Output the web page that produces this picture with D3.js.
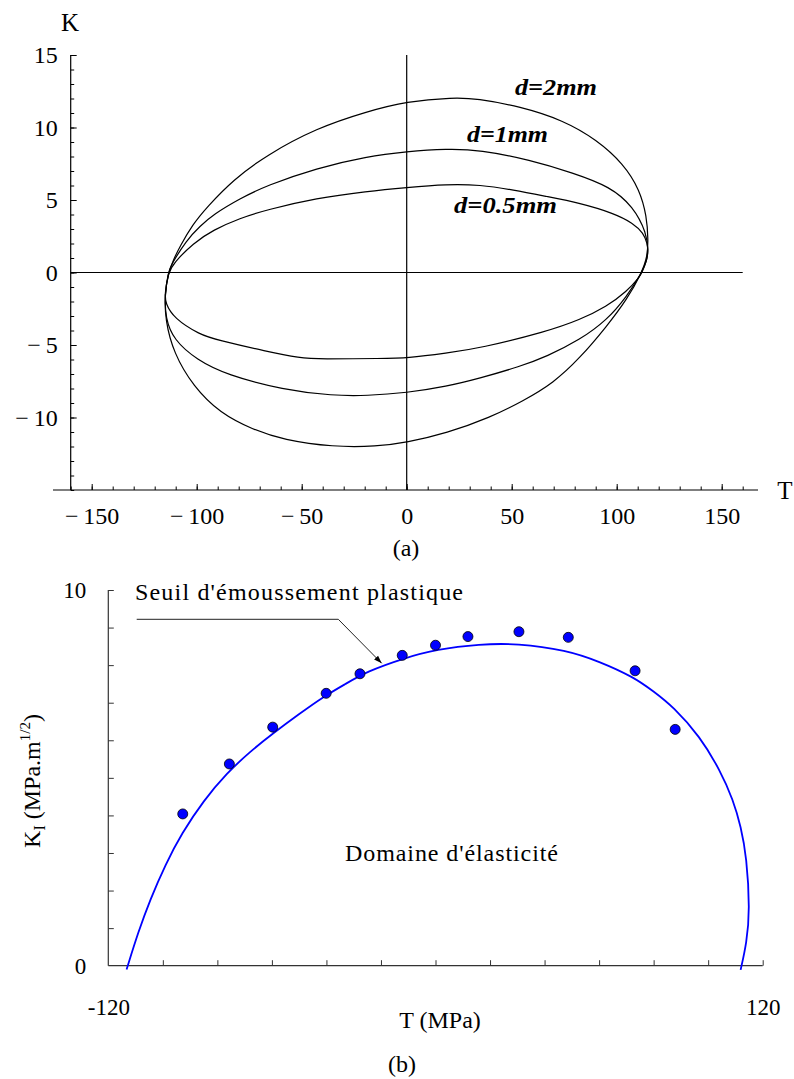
<!DOCTYPE html>
<html><head><meta charset="utf-8">
<script src="https://cdn.jsdelivr.net/npm/d3@7"></script>
<style>
html,body{margin:0;padding:0;background:#fff;}
svg{display:block;font-family:"Liberation Serif","Times New Roman",Times,"DejaVu Serif",serif;}
text{font-family:"Liberation Serif","Times New Roman",Times,"DejaVu Serif",serif;fill:#000;}
</style></head>
<body>
<svg id="c" width="794" height="1079"></svg>
<script>
// ---------- Chart (a) data: closed loops [T, K] ----------
const curveD2 = [
 [-113.5,0],[-111,0.9],[-108,1.8],[-102,3.3],[-95.2,4.5],[-82.6,6.4],[-66.7,8.1],[-42.9,9.96],[-19,11.1],[0,11.8],
 [22.2,12.07],[33.3,12.0],[54,11.45],[74.6,10.5],[90.5,9.15],[103.2,7.5],[111,5.7],[114.3,3.86],[115,2.25],[114.6,1.1],[112,0],
 [104.8,-1.88],[95.2,-3.72],[82.5,-5.9],[69.8,-7.63],[55.5,-8.85],[39.7,-10.0],[19,-11.08],[0,-11.72],[-14.3,-12.0],
 [-35,-12.04],[-58.8,-11.54],[-73,-10.85],[-88.9,-9.7],[-101.6,-7.86],[-111,-5.56],[-115,-3.26],[-115.2,-1.5]
];
const curveD1 = [
 [-113.5,0],[-112.7,0.4],[-104.8,2.25],[-98.4,3.2],[-92.1,4.0],[-79.4,5.1],[-66.7,6.0],[-42.9,7.2],[-19,8.0],[0,8.34],
 [19,8.53],[34.9,8.46],[58.7,7.77],[79.4,6.86],[96.8,5.93],[107.9,4.55],[114.3,2.7],[115,1.5],[114.3,0.8],[112,0],
 [104.8,-1.66],[95.2,-3.3],[82.5,-4.64],[66.7,-5.79],[54,-6.48],[34.9,-7.29],[19,-7.86],[0,-8.3],[-19,-8.5],[-35,-8.5],
 [-58.8,-8.09],[-85.7,-7.06],[-100,-6.02],[-111,-4.64],[-114.9,-3.15],[-115.2,-1.5]
];
const curveD05 = [
 [-113.5,0],[-111,0.65],[-101.6,2.03],[-92.1,2.94],[-79.4,3.75],[-66.7,4.32],[-42.9,5.13],[-19,5.59],[0,5.86],
 [19,6.09],[34.9,6.05],[50.8,5.7],[66.7,5.24],[82.5,4.79],[98.4,4.1],[107.9,3.4],[112.7,2.72],[114.6,2.0],[115,1.5],[114.3,0.8],[112,0],
 [111.1,-0.28],[104.8,-1.31],[95.2,-2.34],[82.5,-3.26],[66.7,-4.07],[34.9,-5.22],[19,-5.56],[0,-5.9],[-11.1,-5.93],
 [-41.3,-5.97],[-50.8,-5.9],[-66.7,-5.45],[-90.5,-4.64],[-98.4,-4.3],[-111,-3.15],[-114.9,-2.1],[-115.2,-1.5]
];
const curveLabels = ["d=2mm","d=1mm","d=0.5mm"];
const xTicksA = [-150,-100,-50,0,50,100,150];
const yTicksA = [-10,-5,0,5,10,15];

// ---------- Chart (b) data ----------
const thresholdCurve = [
 [-113.3,-0.1],[-109,0.9],[-104.7,1.75],[-99,2.7],[-93.1,3.52],[-85,4.4],[-76.6,5.12],[-68,5.7],[-59.5,6.19],[-50,6.7],
 [-41.1,7.16],[-33,7.5],[-25.2,7.83],[-11.8,8.18],[0.4,8.42],[16.3,8.56],[29.8,8.58],[48.1,8.4],[60,8.1],[72.5,7.69],
 [80,7.3],[87.2,6.89],[97,6.1],[104.3,5.21],[109.2,4.41],[112,3.7],[114.1,2.9],[115.3,1.48],[114.1,0.6],[111.9,-0.11]
];
const measT = [-92.7,-75.6,-59.7,-40.1,-27.7,-12.2,0,11.9,30.6,48.7,73.2,87.9];
const measK = [4.04,5.37,6.35,7.25,7.77,8.26,8.53,8.76,8.89,8.74,7.85,6.29];
const xTicksB = [-120,120];
const yTicksB = [0,10];

const svg = d3.select("#c");
const SERIF = "Liberation Serif, Times New Roman, Times, DejaVu Serif, serif";

// ================= Chart (a) =================
const xA = d3.scaleLinear().domain([-160,160]).range([70.7,742.7]);
const yA = d3.scaleLinear().domain([-15,15]).range([490,55]);
const gA = svg.append("g");

gA.append("line").attr("x1",53).attr("x2",758).attr("y1",yA(-15)).attr("y2",yA(-15)).attr("stroke","#000").attr("stroke-width",1.2);
gA.append("line").attr("x1",xA(-160)).attr("x2",xA(-160)).attr("y1",yA(-15)).attr("y2",yA(15)).attr("stroke","#000").attr("stroke-width",1.2);
gA.append("line").attr("x1",xA(-160)).attr("x2",xA(160)).attr("y1",yA(0)).attr("y2",yA(0)).attr("stroke","#000").attr("stroke-width",1.2);
gA.append("line").attr("x1",xA(0)).attr("x2",xA(0)).attr("y1",yA(-15)).attr("y2",yA(15)).attr("stroke","#000").attr("stroke-width",1.2);

const xMinorA = d3.range(-160,161,10);
gA.append("g").attr("transform",`translate(0,${yA(-15)})`)
  .call(d3.axisBottom(xA).tickValues(xMinorA).tickSize(-3.5).tickFormat(""))
  .call(g=>g.select(".domain").remove()).selectAll("line").attr("stroke","#000");
gA.append("g").attr("transform",`translate(0,${yA(-15)})`)
  .call(d3.axisBottom(xA).tickValues(xTicksA).tickSize(-6).tickPadding(17)
    .tickFormat(d=> d<0 ? "\u2212\u2009"+Math.abs(d) : String(d)))
  .call(g=>g.select(".domain").remove())
  .call(g=>g.selectAll("line").attr("stroke","#000"))
  .call(g=>g.selectAll("text").attr("font-size",24).attr("font-family",SERIF).attr("fill","#000"));

const yMinorA = d3.range(-15,16,1);
gA.append("g").attr("transform",`translate(${xA(-160)},0)`)
  .call(d3.axisLeft(yA).tickValues(yMinorA).tickSize(-3.5).tickFormat(""))
  .call(g=>g.select(".domain").remove()).selectAll("line").attr("stroke","#000");
gA.append("g").attr("transform",`translate(${xA(-160)},0)`)
  .call(d3.axisLeft(yA).tickValues(yTicksA).tickSize(-6).tickPadding(13)
    .tickFormat(d=> d<0 ? "\u2212\u2009"+Math.abs(d) : String(d)))
  .call(g=>g.select(".domain").remove())
  .call(g=>g.selectAll("line").attr("stroke","#000"))
  .call(g=>g.selectAll("text").attr("font-size",24).attr("font-family",SERIF).attr("fill","#000"));

const lineA = d3.line().x(d=>xA(d[0])).y(d=>yA(d[1])).curve(d3.curveBasisClosed);
[curveD2,curveD1,curveD05].forEach(c=>{
  gA.append("path").attr("d",lineA(c)).attr("fill","none").attr("stroke","#000").attr("stroke-width",1.2);
});

gA.append("text").attr("x",70).attr("y",31).attr("text-anchor","middle").attr("font-size",25).text("K");
gA.append("text").attr("x",785).attr("y",499).attr("text-anchor","middle").attr("font-size",25).text("T");
gA.append("text").attr("x",406).attr("y",556).attr("text-anchor","middle").attr("font-size",24).text("(a)");
const labPos = [[515,95,82],[467,142,81],[454,213,103]];
curveLabels.forEach((t,i)=>{
  gA.append("text").attr("x",labPos[i][0]).attr("y",labPos[i][1])
    .attr("font-size",23).attr("font-style","italic").attr("font-weight","bold")
    .attr("textLength",labPos[i][2]).attr("lengthAdjust","spacingAndGlyphs").text(t);
});

// ================= Chart (b) =================
const xB = d3.scaleLinear().domain([-120,120]).range([108.3,762.7]);
const yB = d3.scaleLinear().domain([0,10]).range([965.7,590]);
const gB = svg.append("g");
const axCol = "#333";

gB.append("line").attr("x1",xB(-120)).attr("x2",xB(120)).attr("y1",yB(0)).attr("y2",yB(0)).attr("stroke",axCol).attr("stroke-width",1.2);
gB.append("line").attr("x1",xB(-120)).attr("x2",xB(-120)).attr("y1",yB(0)).attr("y2",yB(10)).attr("stroke",axCol).attr("stroke-width",1.2);

gB.append("g").attr("transform",`translate(0,${yB(0)})`)
  .call(d3.axisBottom(xB).tickValues(d3.range(-100,121,20)).tickSize(-5.5).tickFormat(""))
  .call(g=>g.select(".domain").remove()).selectAll("line").attr("stroke",axCol);
gB.append("g").attr("transform",`translate(0,${yB(0)})`)
  .call(d3.axisBottom(xB).tickValues(xTicksB).tickSize(0).tickPadding(33))
  .call(g=>g.select(".domain").remove())
  .call(g=>g.selectAll("text").attr("font-size",23).attr("font-family",SERIF).attr("fill","#000")
     .text(d=>d<0?"-"+Math.abs(d):String(d)));

gB.append("g").attr("transform",`translate(${xB(-120)},0)`)
  .call(d3.axisLeft(yB).tickValues(d3.range(1,11,1)).tickSize(-5.5).tickFormat(""))
  .call(g=>g.select(".domain").remove()).selectAll("line").attr("stroke",axCol);
gB.append("g").attr("transform",`translate(${xB(-120)},0)`)
  .call(d3.axisLeft(yB).tickValues(yTicksB).tickSize(0).tickPadding(22))
  .call(g=>g.select(".domain").remove())
  .call(g=>g.selectAll("text").attr("font-size",23).attr("font-family",SERIF).attr("fill","#000"));

const lineB = d3.line().x(d=>xB(d[0])).y(d=>yB(d[1])).curve(d3.curveBasis);
gB.append("path").attr("d",lineB(thresholdCurve)).attr("fill","none").attr("stroke","#0000ff").attr("stroke-width",1.8);

gB.selectAll("circle.m").data(measT.map((t,i)=>[t,measK[i]])).enter().append("circle")
  .attr("cx",d=>xB(d[0])).attr("cy",d=>yB(d[1])).attr("r",5)
  .attr("fill","#0000ff").attr("stroke","#000").attr("stroke-width",0.8);

const defs = svg.append("defs");
defs.append("marker").attr("id","ah").attr("viewBox","0 0 10 10").attr("refX",10).attr("refY",5)
  .attr("markerWidth",8).attr("markerHeight",8).attr("orient","auto-start-reverse").attr("markerUnits","userSpaceOnUse")
  .append("path").attr("d","M0,1.5 L10,5 L0,8.5 Z").attr("fill","#000");
gB.append("polyline").attr("points","136.7,619.3 338.3,619.3 381.7,663.3")
  .attr("fill","none").attr("stroke","#222").attr("stroke-width",1).attr("marker-end","url(#ah)");

gB.append("text").attr("x",135).attr("y",600).attr("font-size",24)
  .attr("textLength",328).attr("lengthAdjust","spacing").text("Seuil d'émoussement plastique");
gB.append("text").attr("x",345).attr("y",861).attr("font-size",24)
  .attr("textLength",213).attr("lengthAdjust","spacing").text("Domaine d'élasticité");
gB.append("text").attr("x",440).attr("y",1028).attr("text-anchor","middle").attr("font-size",24).text("T (MPa)");
gB.append("text").attr("x",402).attr("y",1072).attr("text-anchor","middle").attr("font-size",24).text("(b)");

const yl = gB.append("text").attr("transform","translate(40,781) rotate(-90)").attr("text-anchor","middle").attr("font-size",24);
yl.append("tspan").text("K");
yl.append("tspan").attr("font-size",16).attr("dy",5).text("I");
yl.append("tspan").attr("dy",-5).text(" (MPa.m");
yl.append("tspan").attr("font-size",15).attr("dy",-10).text("1/2");
yl.append("tspan").attr("dy",10).text(")");
</script>
</body></html>
